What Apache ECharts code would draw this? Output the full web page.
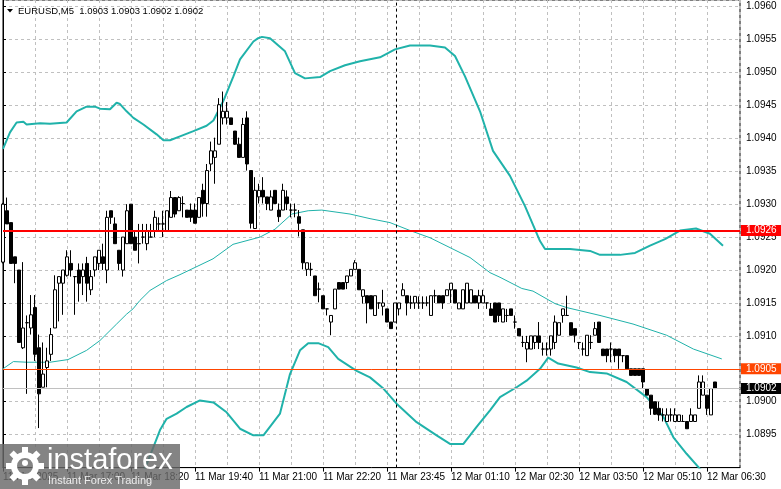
<!DOCTYPE html>
<html><head><meta charset="utf-8">
<script src="https://cdn.jsdelivr.net/npm/echarts@6/dist/echarts.min.js"></script>
<style>html,body{margin:0;padding:0;background:#fff}#c{width:781px;height:489px}</style>
</head><body><div id="c"></div>
<script>
const symbolName = 'EURUSD,M5';
const lastQuote = ['1.0903', '1.0903', '1.0902', '1.0902'];
const timeLabels = ['11 Mar 2025', '11 Mar 17:00', '11 Mar 18:20', '11 Mar 19:40', '11 Mar 21:00', '11 Mar 22:20',
  '11 Mar 23:45', '12 Mar 01:10', '12 Mar 02:30', '12 Mar 03:50', '12 Mar 05:10', '12 Mar 06:30'];
const barsPerLabel = 16;

const opens = [1.09212,1.09290,1.09272,1.09220,1.09200,1.09082,1.09120,1.09112,1.09143,1.09082,
1.09022,1.09052,1.09072,1.09112,1.09180,1.09180,1.09192,1.09210,1.09190,1.09200,
1.09190,1.09210,1.09170,1.09200,1.09210,1.09220,1.09200,1.09290,1.09270,1.09230,
1.09200,1.09240,1.09300,1.09250,1.09240,1.09250,1.09240,1.09250,1.09260,1.09270,
1.09270,1.09260,1.09280,1.09310,1.09290,1.09301,1.09291,1.09291,1.09291,1.09280,
1.09321,1.09301,1.09361,1.09371,1.09391,1.09431,1.09431,1.09431,1.09411,1.09391,
1.09371,1.09431,1.09351,1.09263,1.09311,1.09321,1.09311,1.09291,1.09321,1.09291,
1.09291,1.09311,1.09291,1.09291,1.09281,1.09261,1.09201,1.09201,1.09191,1.09171,
1.09161,1.09141,1.09121,1.09141,1.09181,1.09181,1.09181,1.09191,1.09201,1.09201,
1.09160,1.09161,1.09161,1.09131,1.09150,1.09145,1.09141,1.09121,1.09121,1.09141,
1.09161,1.09161,1.09150,1.09150,1.09150,1.09150,1.09150,1.09131,1.09161,1.09161,
1.09161,1.09161,1.09170,1.09170,1.09141,1.09141,1.09150,1.09150,1.09161,1.09150,
1.09150,1.09150,1.09141,1.09150,1.09150,1.09121,1.09131,1.09141,1.09121,1.09111,
1.09090,1.09080,1.09080,1.09090,1.09100,1.09080,1.09080,1.09080,1.09090,1.09101,
1.09131,1.09131,1.09120,1.09111,1.09090,1.09080,1.09070,1.09090,1.09101,1.09121,
1.09080,1.09080,1.09080,1.09080,1.09080,1.09070,1.09070,1.09050,1.09050,1.09050,
1.09050,1.09020,1.09010,1.09000,1.08990,1.08980,1.08970,1.08980,1.08970,1.08970,
1.08970,1.08970,1.08970,1.08970,1.08990,1.09010,1.09010,1.08980,1.09030];

const closes = [1.09300,1.09270,1.09210,1.09210,1.09090,1.09112,1.09120,1.09132,1.09072,1.09012,
1.09042,1.09062,1.09102,1.09170,1.09190,1.09200,1.09220,1.09200,1.09190,1.09180,
1.09200,1.09180,1.09190,1.09220,1.09230,1.09210,1.09280,1.09280,1.09240,1.09210,
1.09250,1.09290,1.09240,1.09230,1.09240,1.09250,1.09260,1.09250,1.09280,1.09270,
1.09270,1.09290,1.09310,1.09285,1.09310,1.09301,1.09280,1.09280,1.09271,1.09310,
1.09301,1.09351,1.09381,1.09381,1.09451,1.09441,1.09441,1.09421,1.09391,1.09371,
1.09421,1.09361,1.09271,1.09321,1.09321,1.09311,1.09301,1.09311,1.09301,1.09281,
1.09321,1.09301,1.09291,1.09291,1.09271,1.09211,1.09211,1.09201,1.09161,1.09171,
1.09141,1.09141,1.09131,1.09171,1.09171,1.09171,1.09191,1.09201,1.09211,1.09170,
1.09170,1.09150,1.09141,1.09161,1.09150,1.09150,1.09121,1.09111,1.09150,1.09150,
1.09170,1.09150,1.09150,1.09160,1.09150,1.09150,1.09150,1.09161,1.09161,1.09150,
1.09150,1.09170,1.09180,1.09150,1.09150,1.09170,1.09180,1.09170,1.09150,1.09161,
1.09161,1.09150,1.09131,1.09121,1.09131,1.09141,1.09131,1.09131,1.09121,1.09100,
1.09090,1.09090,1.09100,1.09100,1.09090,1.09080,1.09080,1.09100,1.09121,1.09120,
1.09141,1.09131,1.09101,1.09101,1.09090,1.09080,1.09101,1.09090,1.09111,1.09090,
1.09070,1.09070,1.09080,1.09070,1.09070,1.09070,1.09050,1.09040,1.09040,1.09040,
1.09030,1.09010,1.08990,1.08981,1.08980,1.08980,1.08980,1.08980,1.08980,1.08980,
1.08970,1.08959,1.08980,1.08980,1.09030,1.09030,1.08990,1.09020,1.09020];

const highs = [1.09302,1.09310,1.09272,1.09220,1.09200,1.09212,1.09131,1.09162,1.09162,1.09102,
1.09090,1.09082,1.09112,1.09192,1.09190,1.09200,1.09230,1.09230,1.09190,1.09210,
1.09210,1.09220,1.09200,1.09220,1.09230,1.09240,1.09290,1.09290,1.09280,1.09230,
1.09250,1.09300,1.09300,1.09260,1.09270,1.09270,1.09270,1.09270,1.09290,1.09280,
1.09290,1.09290,1.09320,1.09310,1.09312,1.09312,1.09291,1.09301,1.09301,1.09310,
1.09331,1.09361,1.09395,1.09401,1.09461,1.09471,1.09455,1.09431,1.09411,1.09401,
1.09431,1.09441,1.09351,1.09341,1.09331,1.09341,1.09311,1.09321,1.09321,1.09301,
1.09331,1.09321,1.09301,1.09301,1.09291,1.09261,1.09211,1.09211,1.09191,1.09181,
1.09161,1.09141,1.09131,1.09171,1.09181,1.09181,1.09191,1.09201,1.09215,1.09201,
1.09170,1.09161,1.09161,1.09161,1.09150,1.09170,1.09141,1.09121,1.09150,1.09150,
1.09180,1.09161,1.09161,1.09160,1.09160,1.09160,1.09160,1.09161,1.09170,1.09161,
1.09161,1.09170,1.09180,1.09170,1.09150,1.09170,1.09180,1.09170,1.09161,1.09170,
1.09170,1.09150,1.09150,1.09150,1.09150,1.09141,1.09141,1.09141,1.09131,1.09111,
1.09100,1.09100,1.09100,1.09100,1.09121,1.09090,1.09090,1.09100,1.09131,1.09120,
1.09141,1.09161,1.09120,1.09111,1.09090,1.09090,1.09101,1.09101,1.09121,1.09121,
1.09080,1.09080,1.09090,1.09080,1.09080,1.09070,1.09070,1.09050,1.09050,1.09050,
1.09050,1.09020,1.09010,1.09000,1.09000,1.08990,1.08990,1.08990,1.08990,1.08980,
1.08980,1.08970,1.08990,1.08980,1.09040,1.09040,1.09010,1.09020,1.09030];

const lows = [1.09210,1.09270,1.09210,1.09180,1.09090,1.09080,1.09012,1.09102,1.09062,1.08960,
1.09022,1.09022,1.09062,1.09112,1.09122,1.09132,1.09190,1.09190,1.09132,1.09152,
1.09162,1.09152,1.09162,1.09190,1.09200,1.09200,1.09180,1.09270,1.09240,1.09200,
1.09190,1.09240,1.09240,1.09230,1.09210,1.09240,1.09230,1.09250,1.09250,1.09260,
1.09250,1.09260,1.09280,1.09280,1.09290,1.09280,1.09280,1.09273,1.09271,1.09280,
1.09281,1.09281,1.09350,1.09331,1.09391,1.09421,1.09421,1.09421,1.09390,1.09371,
1.09371,1.09351,1.09263,1.09263,1.09301,1.09301,1.09291,1.09291,1.09301,1.09273,
1.09291,1.09291,1.09280,1.09280,1.09251,1.09201,1.09191,1.09191,1.09161,1.09151,
1.09141,1.09131,1.09101,1.09141,1.09171,1.09171,1.09171,1.09191,1.09201,1.09170,
1.09149,1.09119,1.09141,1.09131,1.09141,1.09131,1.09121,1.09111,1.09121,1.09131,
1.09161,1.09131,1.09141,1.09141,1.09141,1.09141,1.09145,1.09131,1.09150,1.09150,
1.09141,1.09161,1.09150,1.09150,1.09141,1.09141,1.09150,1.09150,1.09150,1.09141,
1.09150,1.09141,1.09131,1.09121,1.09121,1.09121,1.09121,1.09131,1.09111,1.09100,
1.09083,1.09060,1.09080,1.09080,1.09080,1.09070,1.09070,1.09070,1.09080,1.09101,
1.09120,1.09131,1.09101,1.09090,1.09080,1.09070,1.09070,1.09080,1.09101,1.09090,
1.09070,1.09060,1.09060,1.09060,1.09050,1.09060,1.09050,1.09040,1.09040,1.09040,
1.09020,1.09010,1.08980,1.08980,1.08971,1.08970,1.08970,1.08970,1.08970,1.08970,
1.08970,1.08959,1.08970,1.08970,1.08990,1.09010,1.08980,1.08980,1.09020];

// Bollinger bands: [bar position, price]
const upperBand = [[0,1.09384],[1.75,1.09409],[3.4,1.09424],[5.1,1.09425],[5.9,1.09421],[9.25,1.09423],[11.75,1.09422],
[15.9,1.09424],[18.4,1.09441],[20.9,1.09448],[23,1.09448],[24.25,1.09445],[26.75,1.09444],[28.4,1.09454],[29.25,1.09452],
[30.9,1.09441],[32.6,1.09431],[35.1,1.09421],[38.4,1.09406],[40.1,1.09397],[41.75,1.09397],[44.25,1.09403],[47.6,1.09411],
[50.9,1.09419],[52.6,1.09427],[55.1,1.09457],[57.6,1.09494],[59.25,1.09520],[62.6,1.09547],[63.8,1.09552],[64.75,1.09554],
[66.75,1.09552],[70.5,1.09532],[73,1.09499],[75.5,1.09491],[79.25,1.09493],[81.75,1.09502],[85.5,1.09511],[89.25,1.09517],
[94.25,1.09523],[98,1.09535],[101.75,1.09541],[106.75,1.09541],[110.5,1.09538],[113,1.09525],[115.5,1.09494],[119.25,1.09441],
[122.5,1.09381],[126.75,1.09343],[130.5,1.09297],[134.25,1.09244],[135.5,1.09232],[141.75,1.09232],[146.75,1.09229],
[149.25,1.09223],[154.25,1.09223],[158,1.09226],[161.75,1.09237],[165.5,1.09247],[169.25,1.09260],[173.25,1.09263],
[176.75,1.09255],[180,1.09237]];
const middleBand = [[0,1.09050],[2.6,1.09061],[6,1.09060],[11.75,1.09060],[16.25,1.09064],[20.9,1.09078],[24.25,1.09093],
[28.4,1.09118],[30.9,1.09133],[32.5,1.09141],[34.25,1.09154],[36.75,1.09169],[40.9,1.09184],[44.25,1.09193],[52.5,1.09217],
[57.5,1.09239],[64.25,1.09250],[68,1.09262],[72.2,1.09285],[76.3,1.09290],[79.7,1.09291],[86.75,1.09285],[91.75,1.09278],
[96.75,1.09272],[101.75,1.09260],[106.75,1.09249],[111.75,1.09234],[116.75,1.09219],[121.75,1.09196],[124.25,1.09189],
[129.7,1.09172],[132.5,1.09168],[138,1.09149],[140.9,1.09143],[149.25,1.09131],[157.5,1.09118],[165.9,1.09101],
[172.6,1.09080],[179.7,1.09065]];
const lowerBand = [[30,1.08780],[34,1.08880],[35.5,1.08899],[37.6,1.08931],[39.25,1.08957],[40.9,1.08974],[43.4,1.08982],
[45.9,1.08992],[49.25,1.09002],[52.6,1.08999],[55.9,1.08984],[59.25,1.08959],[62.6,1.08949],[65.1,1.08949],[69.25,1.08982],
[71.75,1.09042],[74.25,1.09078],[76.3,1.09089],[78.8,1.09089],[81.3,1.09083],[83.8,1.09065],[88.4,1.09047],[91.75,1.09037],
[95.1,1.09020],[98.4,1.08997],[103.4,1.08969],[108.4,1.08949],[111.75,1.08936],[115.1,1.08936],[118.4,1.08962],
[121.75,1.08987],[124.25,1.09007],[128.4,1.09022],[130.9,1.09032],[134.25,1.09050],[136.3,1.09067],[138.8,1.09058],
[143.4,1.09052],[146.75,1.09045],[150.9,1.09043],[155.9,1.09030],[160.9,1.09007],[165.1,1.08977],[167.6,1.08946],
[170.9,1.08921],[174.25,1.08898],[178,1.08880],[180,1.08870]];

const resistanceLevel = 1.0926;
const supportLevel = 1.0905;
const bidPrice = 1.0902;
const separatorBar = 98.2;

const FONT = "'Liberation Sans', Arial, sans-serif";
const BAND = '#20b2aa';
const GRIDC = '#c0c0c0';

const candles = opens.map((o, i) => [i, o, closes[i], lows[i], highs[i]]);

function tag(bg, v) {
  return {show: true, position: 'end', distance: 1, formatter: v.toFixed(4),
    backgroundColor: bg, color: '#fff', fontFamily: FONT, fontSize: 10, lineHeight: 10,
    padding: [1, 5, 0, 5]};
}

const chart = echarts.init(document.getElementById('c'), null, {renderer: 'canvas'});
chart.setOption({
  animation: false,
  backgroundColor: '#fff',
  grid: {left: 3, right: 41, top: -1.4, bottom: 21.4, show: true, borderColor: '#000', borderWidth: 1, backgroundColor: 'transparent'},
  xAxis: {
    type: 'value', min: 0, max: 184.25, interval: barsPerLabel,
    axisLine: {show: true, onZero: false, lineStyle: {color: '#000', width: 1}},
    axisTick: {show: true, length: 4, lineStyle: {color: '#000'}},
    axisLabel: {align: 'left', margin: 5, fontFamily: FONT, fontSize: 10, color: '#000', showMaxLabel: false,
      formatter: v => { const k = Math.round(v / barsPerLabel); return (Math.abs(k * barsPerLabel - v) < 1e-6 && timeLabels[k]) ? timeLabels[k] : ''; }},
    splitLine: {show: true, lineStyle: {color: GRIDC, type: [3, 3], width: 1}},
    minorTick: {show: false, splitNumber: 2},
    minorSplitLine: {show: true, lineStyle: {color: GRIDC, type: [3, 3], width: 1}}
  },
  yAxis: {
    type: 'value', position: 'right', min: 1.0890, max: 1.0961, interval: 0.0005,
    axisLine: {show: true, lineStyle: {color: '#000', width: 1}},
    axisTick: {show: true, length: 3, lineStyle: {color: '#000'}},
    axisLabel: {margin: 6, fontFamily: FONT, fontSize: 10, color: '#000', showMinLabel: false, showMaxLabel: false,
      formatter: v => v.toFixed(4)},
    splitLine: {show: true, lineStyle: {color: GRIDC, type: [3, 3], width: 1}}
  },
  series: [
    {type: 'line', data: upperBand, showSymbol: false, silent: true, lineStyle: {color: BAND, width: 2}, z: 2},
    {type: 'line', data: middleBand, showSymbol: false, silent: true, lineStyle: {color: BAND, width: 1}, z: 2},
    {type: 'line', data: lowerBand, showSymbol: false, silent: true, lineStyle: {color: BAND, width: 2}, z: 2},
    {
      type: 'candlestick', data: candles, barWidth: 3, z: 3,
      itemStyle: {color: '#fff', color0: '#000', borderColor: '#000', borderColor0: '#000', borderWidth: 1}
    },
    {
      type: 'line', data: [], z: 5, silent: true,
      markLine: {
        silent: true, symbol: ['none', 'none'], animation: false, precision: 6,
        data: [
          {yAxis: bidPrice, lineStyle: {color: GRIDC, width: 1, type: 'solid'}, label: tag('#000', bidPrice)},
          {yAxis: supportLevel, lineStyle: {color: '#ff4500', width: 1, type: 'solid'}, label: tag('#ff4500', supportLevel)},
          {yAxis: resistanceLevel, lineStyle: {color: '#ff0000', width: 2, type: 'solid'}, label: tag('#ff0000', resistanceLevel)},
          {xAxis: separatorBar, lineStyle: {color: '#000', width: 1, type: [3, 3]}, label: {show: false}}
        ]
      }
    }
  ],
  graphic: [
    {type: 'polygon', shape: {points: [[7, 9], [13, 9], [10, 12.5]]}, style: {fill: '#000'}, z: 10},
    {type: 'text', x: 18, y: 11, style: {text: symbolName + '  ' + lastQuote.join(' '), fill: '#000',
      font: '9.5px ' + FONT, textVerticalAlign: 'middle'}, z: 10},
    {type: 'group', z: 20, children: [
      {type: 'rect', shape: {x: 0, y: 444, width: 180, height: 45}, style: {fill: 'rgba(105,105,105,0.82)'}, z: 20},
      {type: 'ring', shape: {cx: 25, cy: 466, r: 14, r0: 8}, style: {fill: '#fff'}, z: 21},
      ...[0, 1, 2, 3, 4, 5, 6, 7].map(k => ({type: 'rect', x: 25, y: 466, rotation: k * Math.PI / 4,
        shape: {x: -3, y: -19, width: 6, height: 6}, style: {fill: '#fff'}, z: 21})),
      {type: 'circle', shape: {cx: 25, cy: 463, r: 3}, style: {fill: '#fff'}, z: 21},
      {type: 'text', x: 47, y: 461, style: {text: 'instaforex', fill: '#fff', font: '29px "Liberation Sans", sans-serif',
        textVerticalAlign: 'middle'}, z: 21},
      {type: 'text', x: 48, y: 481, style: {text: 'Instant Forex Trading', fill: 'rgba(255,255,255,0.85)',
        font: '11px "Liberation Sans", sans-serif', textVerticalAlign: 'middle'}, z: 21}
    ]}
  ]
});
</script>
</body></html>
